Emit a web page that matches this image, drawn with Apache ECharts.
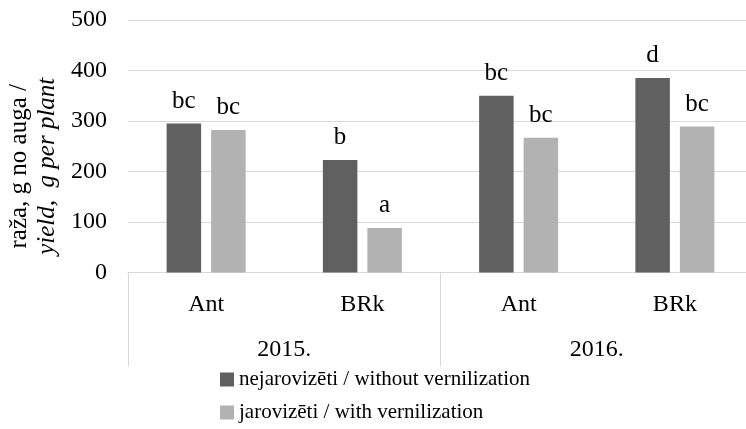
<!DOCTYPE html>
<html>
<head>
    <meta charset="utf-8">
    <title>raža</title>
    <script src="https://cdn.jsdelivr.net/npm/echarts@6/dist/echarts.min.js"></script>
    <style>
        html, body { margin: 0; padding: 0; background: #fff; }
    </style>
</head>
<body>
    <div id="main" style="width: 746px;height:429px;"></div>
    <script type="text/javascript">
        // dati
        var cultivars = ['Ant', 'BRk', 'Ant', 'BRk'];
        var years = ['2015.', '2016.'];
        var yTicks = [0, 100, 200, 300, 400, 500];
        var nejarovizeti = [295, 223, 350, 385];
        var jarovizeti = [282, 88, 267, 289];
        var burtiNejar = ['bc', 'b', 'bc', 'd'];
        var burtiJar = ['bc', 'a', 'bc', 'bc'];
        var nosaukumi = ['nejarovizēti / without vernilization', 'jarovizēti / with vernilization'];

        var font = 'Liberation Serif';
        var fs = 24;

        var myChart = echarts.init(document.getElementById('main'));

        function labelFn(arr) {
            return function (p) { return arr[p.dataIndex]; };
        }

        // viena legenda katrai rindai
        function legenda(nosaukums, top) {
            return {
                left: 220,
                top: top,
                padding: 0,
                itemWidth: 14,
                itemHeight: 14,
                icon: 'rect',
                textStyle: { fontFamily: font, fontSize: 21, color: '#000' },
                data: [nosaukums]
            };
        }

        myChart.setOption({
            animation: false,
            textStyle: { fontFamily: font },
            grid: { left: 128, right: -7, top: 20, bottom: 156.5, outerBoundsMode: 'none' },
            legend: [legenda(nosaukumi[0], 369), legenda(nosaukumi[1], 402)],
            xAxis: [
                {
                    type: 'category',
                    data: cultivars,
                    axisLine: { lineStyle: { color: '#d9d9d9', width: 1 } },
                    axisTick: { show: false },
                    axisLabel: { margin: 20, fontFamily: font, fontSize: fs, color: '#000' }
                },
                {
                    type: 'category',
                    data: years,
                    position: 'bottom',
                    axisLine: { show: false },
                    axisTick: { show: true, length: 94, lineStyle: { color: '#d9d9d9' } },
                    axisLabel: { margin: 65, fontFamily: font, fontSize: fs, color: '#000' }
                }
            ],
            yAxis: {
                type: 'value',
                min: yTicks[0],
                max: yTicks[yTicks.length - 1],
                interval: 100,
                axisLine: { show: false },
                axisTick: { show: false },
                splitLine: { lineStyle: { color: '#d9d9d9', width: 1 } },
                axisLabel: { margin: 21, fontFamily: font, fontSize: fs, color: '#000' },
                name: '{a|raža, g no auga /}\n{b|yield,  g per plant}',
                nameLocation: 'middle',
                nameRotate: 90,
                nameGap: 64,
                nameTextStyle: {
                    padding: [0, 40, 0, 0],
                    rich: {
                        a: { fontFamily: font, fontSize: 25, color: '#000', lineHeight: 28 },
                        b: { fontFamily: font, fontSize: 25, color: '#000', fontStyle: 'italic', lineHeight: 28 }
                    }
                }
            },
            series: [
                {
                    name: nosaukumi[0],
                    type: 'bar',
                    xAxisIndex: 0,
                    data: nejarovizeti,
                    barWidth: 34.5,
                    barGap: '29%',
                    itemStyle: { color: '#606060' },
                    label: {
                        show: true, position: 'top', distance: 10,
                        formatter: labelFn(burtiNejar),
                        fontFamily: font, fontSize: 25, color: '#000'
                    }
                },
                {
                    name: nosaukumi[1],
                    type: 'bar',
                    xAxisIndex: 0,
                    data: jarovizeti,
                    barWidth: 34.5,
                    barGap: '29%',
                    itemStyle: { color: '#b2b2b2' },
                    label: {
                        show: true, position: 'top', distance: 10,
                        formatter: labelFn(burtiJar),
                        fontFamily: font, fontSize: 25, color: '#000'
                    }
                }
            ]
        });
    </script>
</body>
</html>
